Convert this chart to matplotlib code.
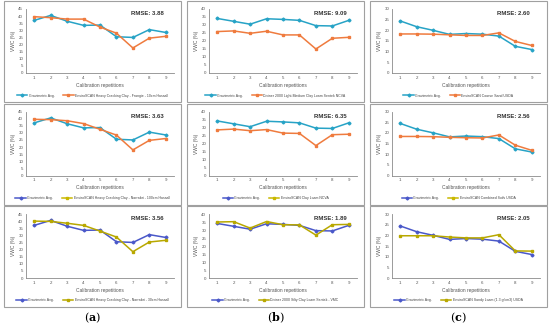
import matplotlib.pyplot as plt
from matplotlib.lines import Line2D
from matplotlib.patches import Rectangle

plt.rcParams['font.family'] = ['Liberation Sans', 'DejaVu Sans']

reps = [1, 2, 3, 4, 5, 6, 7, 8, 9]

# gravimetric averages (one per soil / column)
grav_a = [37.0, 40.5, 36.4, 33.5, 33.7, 25.5, 25.0, 30.5, 28.5]
grav_b = [34.1, 32.3, 30.5, 33.9, 33.5, 32.9, 29.6, 29.4, 32.9]
grav_c = [24.4, 21.7, 20.0, 18.1, 18.5, 18.2, 17.3, 12.5, 11.0]

# sensor series, row by row
sens_a1 = [39.6, 38.9, 37.9, 37.9, 32.3, 28.0, 17.6, 24.5, 25.8]
sens_b1 = [25.9, 26.3, 24.8, 26.1, 23.8, 23.8, 15.0, 21.7, 22.3]
sens_c1 = [18.3, 18.3, 18.2, 17.9, 17.6, 17.6, 18.8, 14.8, 12.9]
sens_a2 = [39.5, 39.3, 38.5, 36.5, 32.5, 28.4, 18.0, 24.7, 26.0]
sens_b2 = [28.5, 29.0, 28.0, 28.7, 26.5, 26.3, 18.7, 25.5, 25.8]
sens_c2 = [18.3, 18.3, 18.2, 17.9, 17.7, 17.6, 19.0, 14.2, 11.8]
sens_a3 = [40.0, 39.8, 38.5, 37.0, 33.0, 28.8, 18.5, 25.3, 26.5]
sens_b3 = [35.0, 35.2, 31.2, 35.3, 33.3, 33.2, 26.8, 33.3, 33.5]
sens_c3 = [19.8, 19.8, 19.8, 19.2, 18.8, 18.8, 20.3, 12.7, 12.6]

rmse = [["RMSE: 3.88", "RMSE: 9.09", "RMSE: 2.60"],
        ["RMSE: 3.63", "RMSE: 6.35", "RMSE: 2.56"],
        ["RMSE: 3.56", "RMSE: 1.89", "RMSE: 2.05"]]
names = [["EnviroSCAN Heavy Cracking Clay - Frangie - 10cm Hassall",
          "Diviner 2000 Light-Medium Clay Loam Sentek NCVA",
          "EnviroSCAN Coarse Sand USDA"],
         ["EnviroSCAN Heavy Cracking Clay - Narrabri - 100cm Hassall",
          "EnviroSCAN Clay Loam NCVA",
          "EnviroSCAN Combined Soils USDA"],
         ["EnviroSCAN Heavy Cracking Clay - Narrabri - 30cm Hassall",
          "Diviner 2000 Silty Clay Loam Sentek - VMC",
          "EnviroSCAN Sandy Loam (1.3 g/cm3) USDA"]]
sensors = [[sens_a1, sens_b1, sens_c1],
           [sens_a2, sens_b2, sens_c2],
           [sens_a3, sens_b3, sens_c3]]
gravs = [grav_a, grav_b, grav_c]
ymax = [45, 40, 30]
col_labels = ["a", "b", "c"]

teal = "#27a3c6"
orange = "#ef7b3e"
blue = "#4a58c9"
olive = "#b8a800"
yellow = "#c9b800"

# line colours per row: (plot grav, plot sensor, legend grav, legend sensor)
row_cols = [(teal, orange, teal, orange),
            (teal, orange, blue, yellow),
            (blue, olive, blue, olive)]

W, H = 550, 327
fig = plt.figure(figsize=(5.5, 3.27), dpi=100)

col_left = [4, 187, 370]
row_top = [1, 103.5, 206]
bw, bh = 177, 101

for r in range(3):
    for c in range(3):
        bx, by = col_left[c], row_top[r]
        fig.patches.append(Rectangle((bx / W, 1 - (by + bh) / H), bw / W, bh / H,
                                     transform=fig.transFigure, fill=False,
                                     edgecolor="#a0a0a0", linewidth=0.8))
        ax = fig.add_axes([(bx + 22) / W, 1 - (by + 72) / H, 148 / W, 64 / H])
        gc, sc, lgc, lsc = row_cols[r]
        ax.plot(reps, gravs[c], color=gc, lw=1.1, marker="D", ms=1.5)
        ax.plot(reps, sensors[r][c], color=sc, lw=1.1, marker="s", ms=1.5)
        ax.set_xlim(0.5, 9.5)
        ax.set_ylim(0, ymax[c])
        ax.set_xticks(reps)
        ax.set_yticks(range(0, ymax[c] + 1, 5))
        ax.tick_params(labelsize=3.2, length=0, pad=2, colors="#555555")
        for s in ["top", "right"]:
            ax.spines[s].set_visible(False)
        for s in ["left", "bottom"]:
            ax.spines[s].set_color("#8a8a8a")
            ax.spines[s].set_linewidth(0.6)
        ax.set_xlabel("Calibration repetitions", fontsize=3.5, color="#555555", labelpad=2)
        ax.set_ylabel("VWC (%)", fontsize=3.5, color="#555555", labelpad=2)
        ax.text(0.71, 0.9, rmse[r][c], transform=ax.transAxes, fontsize=4.3,
                fontweight="semibold", color="#333333")
        handles = [Line2D([], [], color=lgc, lw=1.1, marker="D", ms=1.5),
                   Line2D([], [], color=lsc, lw=1.1, marker="s", ms=1.5)]
        ax.legend(handles, ["Gravimetric Avg.", names[r][c]], loc="center",
                  bbox_to_anchor=((bx + bw / 2) / W, 1 - (by + 94.5) / H),
                  bbox_transform=fig.transFigure, ncol=2, frameon=False,
                  fontsize=2.5, columnspacing=2.5, handlelength=3, handletextpad=0.4,
                  labelcolor="#444444", borderpad=0)

plt.rcParams['mathtext.fontset'] = 'dejavuserif'
for c in range(3):
    fig.text((col_left[c] + bw / 2) / W, 1 - 318 / H,
             "(" + r"$\mathbf{" + col_labels[c] + "}$" + ")",
             ha="center", va="center", fontsize=8, family="DejaVu Serif")

fig.savefig("out.png", dpi=100)
